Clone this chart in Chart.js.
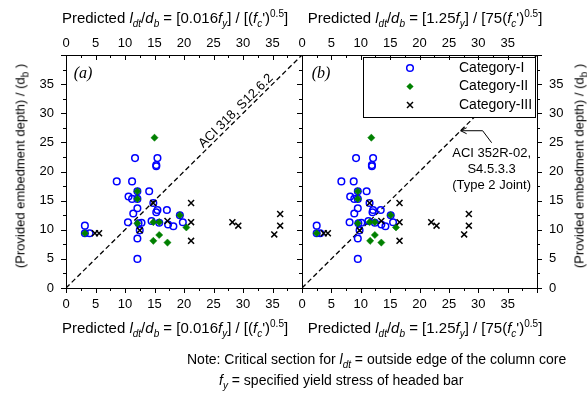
<!DOCTYPE html>
<html>
<head>
<meta charset="utf-8">
<script src="https://cdn.jsdelivr.net/npm/chart.js@4.4.1/dist/chart.umd.min.js"></script>
<style>
  body { margin: 0; background: #fff; }
  #wrap { position: relative; width: 587px; height: 393px; font-family: "Liberation Sans", Arial, sans-serif; font-size: 14px; color: #000; }
  canvas { position: absolute; left: 0; top: 0; }
  .lbl { position: absolute; white-space: nowrap; line-height: 1; }
  .cx { transform: translate(-50%, -50%); }
  .rot { transform: translate(-50%, -50%) rotate(-90deg); font-size: 13px; }
  .ttl { font-size: 15px; }
  sub, sup { font-size: 10px; line-height: 0; }
  .tag { font-family: "Liberation Serif", serif; font-style: italic; font-size: 16px; }
</style>
</head>
<body>
<div id="wrap">
  <canvas id="chartA" width="587" height="393"></canvas>
  <canvas id="chartB" width="587" height="393"></canvas>

  <div class="lbl cx ttl" style="left:175px;top:17px">Predicted <i>l</i><sub><i>dt</i></sub>/<i>d</i><sub><i>b</i></sub> = [0.016<i>f</i><sub><i>y</i></sub>] / [(<i>f</i><sub><i>c</i></sub>')<sup>0.5</sup>]</div>
  <div class="lbl cx ttl" style="left:425px;top:17px">Predicted <i>l</i><sub><i>dt</i></sub>/<i>d</i><sub><i>b</i></sub> = [1.25<i>f</i><sub><i>y</i></sub>] / [75(<i>f</i><sub><i>c</i></sub>')<sup>0.5</sup>]</div>
  <div class="lbl cx ttl" style="left:175px;top:327px">Predicted <i>l</i><sub><i>dt</i></sub>/<i>d</i><sub><i>b</i></sub> = [0.016<i>f</i><sub><i>y</i></sub>] / [(<i>f</i><sub><i>c</i></sub>')<sup>0.5</sup>]</div>
  <div class="lbl cx ttl" style="left:425px;top:327px">Predicted <i>l</i><sub><i>dt</i></sub>/<i>d</i><sub><i>b</i></sub> = [1.25<i>f</i><sub><i>y</i></sub>] / [75(<i>f</i><sub><i>c</i></sub>')<sup>0.5</sup>]</div>

  <div class="lbl rot" style="left:20px;top:166px">(Provided embedment depth) / (d<sub>b</sub> )</div>
  <div class="lbl rot" style="left:579px;top:166px">(Provided embedment depth) / (d<sub>b</sub> )</div>

  <div class="lbl" style="left:187px;top:352px">Note: Critical section for <i>l</i><sub><i>dt</i></sub> = outside edge of the column core</div>
  <div class="lbl" style="left:219px;top:373px"><i>f</i><sub><i>y</i></sub> = specified yield stress of headed bar</div>

  <div class="lbl cx tag" style="left:83px;top:73px">(a)</div>
  <div class="lbl cx tag" style="left:321px;top:73px">(b)</div>
</div>

<script>
// axis ticks (both panels use 0-40 with labels up to 35)
const tickValues = [0, 5, 10, 15, 20, 25, 30, 35];
const tickLabels = ['0', '5', '10', '15', '20', '25', '30', '35'];

// Category-I : provided depth (y), predicted ACI 318 (a) and ACI 352R (b)
const catI_y  = [10.7, 9.4, 9.4, 18.3, 22.3, 18.3, 22.3, 21.1, 20.9, 15.7, 15.3, 16.6, 15.3, 16.6, 13.7, 12.8, 13.4, 13.0, 13.4, 14.6, 11.3, 11.1, 11.2, 9.9, 8.5, 5.0, 11.5, 11.2, 10.9, 10.6, 12.5, 11.3];
const catI_a  = [3.2, 3.2, 4.0, 8.6, 11.7, 11.2, 15.5, 15.3, 15.3, 10.6, 11.2, 12.1, 12.1, 14.1, 12.1, 11.4, 15.5, 15.3, 17.1, 14.8, 10.5, 12.3, 12.8, 12.5, 12.1, 12.1, 14.5, 15.8, 17.3, 18.2, 19.3, 19.8];
const catI_b  = [2.5, 2.5, 3.1, 6.7, 9.2, 8.8, 12.1, 11.9, 11.9, 8.2, 8.9, 9.5, 9.5, 11.0, 9.5, 8.9, 12.1, 12.0, 13.4, 11.5, 8.1, 9.6, 10.1, 9.8, 9.5, 9.5, 11.3, 12.4, 13.5, 14.2, 15.1, 15.5];

// Category-II
const catII_y = [25.8, 16.6, 15.3, 9.4, 11.1, 11.3, 11.3, 12.5, 10.4, 9.1, 8.1, 7.8];
const catII_a = [15.0, 12.1, 12.1, 3.2, 12.1, 14.8, 15.8, 19.3, 20.4, 15.8, 14.8, 17.2];
const catII_b = [11.8, 9.5, 9.5, 2.5, 9.5, 11.5, 12.4, 15.1, 16.0, 12.4, 11.6, 13.5];

// Category-III
const catIII_y = [9.4, 9.4, 14.6, 11.5, 14.6, 11.3, 8.1, 11.3, 10.7, 9.2, 12.7, 10.7, 9.9];
const catIII_a = [4.9, 5.6, 14.8, 17.2, 21.2, 21.2, 21.2, 28.2, 29.2, 35.3, 36.3, 36.3, 12.5];
const catIII_b = [3.7, 4.4, 11.5, 13.5, 16.6, 16.6, 16.6, 22.0, 22.9, 27.6, 28.4, 28.4, 9.8];

// 1:1 line
const refX = [0, 40];
const refY = [0, 40];

const FONT = '"Liberation Sans", Arial, sans-serif';
const pts = (xs, ys) => xs.map((x, i) => ({ x: x, y: ys[i] }));

function makeDatasets(xI, xII, xIII) {
    return [
        { label: 'ref', data: pts(refX, refY), showLine: true, borderColor: '#000', borderWidth: 1.3,
          borderDash: [5, 3], pointRadius: 0, order: 3 },
        { label: 'Category-I', data: pts(xI, catI_y), pointStyle: 'circle', pointRadius: 3.3,
          borderColor: '#0000ff', backgroundColor: 'rgba(0,0,0,0)', pointBorderWidth: 1.5, order: 2 },
        { label: 'Category-II', data: pts(xII, catII_y), pointStyle: 'rectRot', pointRadius: 3.6,
          borderColor: '#008000', backgroundColor: '#008000', pointBorderWidth: 0.5, order: 1 },
        { label: 'Category-III', data: pts(xIII, catIII_y), pointStyle: 'crossRot', pointRadius: 4.2,
          borderColor: '#000', backgroundColor: '#000', pointBorderWidth: 1.5, order: 0 }
    ];
}

function axis(pos, size, pad) {
    return {
        type: 'linear', position: pos, min: 0, max: 40,
        grid: { display: false, drawTicks: false, tickLength: 0 }, border: { display: false },
        afterBuildTicks: s => { s.ticks = tickValues.map(v => ({ value: v })); },
        afterFit: s => { if (s.isHorizontal()) s.height = size; else s.width = size; },
        ticks: { font: { family: FONT, size: 13 }, color: '#000', padding: pad, maxRotation: 0, autoSkip: false,
                 callback: (v, i) => tickLabels[i] }
    };
}

function line(ctx, x1, y1, x2, y2) {
    ctx.beginPath(); ctx.moveTo(x1, y1); ctx.lineTo(x2, y2); ctx.stroke();
}

// frame, major/minor tick marks, annotations and legend
const decor = {
    id: 'decor',
    afterDatasetsDraw(chart, args, opts) {
        const ctx = chart.ctx, a = chart.chartArea;
        const xs = chart.scales.x, ys = chart.scales.y;
        ctx.save();
        ctx.fillStyle = '#000'; ctx.strokeStyle = '#000'; ctx.lineWidth = 1;
        ctx.font = '13px ' + FONT;

        if (opts.panel === 'a') {
            const ang = Math.atan2(ys.getPixelForValue(40) - ys.getPixelForValue(0), xs.getPixelForValue(40) - xs.getPixelForValue(0));
            ctx.save();
            ctx.translate(xs.getPixelForValue(29.6), ys.getPixelForValue(29.6));
            ctx.rotate(ang);
            ctx.textAlign = 'center'; ctx.textBaseline = 'alphabetic';
            ctx.fillText('ACI 318, S12.6.2', 0, -3);
            ctx.restore();
        } else {
            const tx = xs.getPixelForValue(27), ty = ys.getPixelForValue(27);
            ctx.beginPath();
            ctx.moveTo(tx, ty); ctx.lineTo(tx + 22, ty); ctx.lineTo(tx + 31, ty + 12);
            ctx.moveTo(tx + 6, ty - 3); ctx.lineTo(tx, ty); ctx.lineTo(tx + 6, ty + 3);
            ctx.stroke();
            ctx.textAlign = 'center';
            ctx.fillText('ACI 352R-02,', tx + 31, ty + 26);
            ctx.fillText('S4.5.3.3', tx + 31, ty + 42);
            ctx.fillText('(Type 2 Joint)', tx + 31, ty + 58);

            // legend
            const l = a.left + 61, t = a.top + 2, r = a.right - 1, b = a.top + 63;
            ctx.fillStyle = '#fff';
            ctx.fillRect(l, t, r - l, b - t);
            ctx.strokeRect(l + 0.5, t + 0.5, r - l - 1, b - t - 1);
            const mx = l + 47, lx = l + 96;
            const rows = [t + 11, t + 29.5, t + 48];
            chart.data.datasets.slice(1).forEach((ds, i) => {
                const y = rows[i];
                ctx.strokeStyle = ds.borderColor; ctx.fillStyle = ds.backgroundColor; ctx.lineWidth = 1.5;
                if (ds.pointStyle === 'circle') {
                    ctx.beginPath(); ctx.arc(mx, y, 3.3, 0, Math.PI * 2); ctx.stroke();
                } else if (ds.pointStyle === 'rectRot') {
                    ctx.beginPath(); ctx.moveTo(mx, y - 3.6); ctx.lineTo(mx + 3.6, y); ctx.lineTo(mx, y + 3.6); ctx.lineTo(mx - 3.6, y); ctx.closePath(); ctx.fill();
                } else {
                    line(ctx, mx - 3, y - 3, mx + 3, y + 3); line(ctx, mx - 3, y + 3, mx + 3, y - 3);
                }
                ctx.fillStyle = '#000'; ctx.textAlign = 'left'; ctx.textBaseline = 'middle';
                ctx.font = '14px ' + FONT;
                ctx.fillText(ds.label, lx, y);
            });
        }
        ctx.restore();
    },
    afterDraw(chart, args, opts) {
        const ctx = chart.ctx, a = chart.chartArea;
        const xs = chart.scales.x, ys = chart.scales.y;
        ctx.save();
        ctx.strokeStyle = '#000'; ctx.lineWidth = 1;
        ctx.strokeRect(Math.round(a.left) + 0.5, Math.round(a.top) + 0.5, Math.round(a.right - a.left), Math.round(a.bottom - a.top));
        for (let v = 0; v <= 40; v += 2.5) {
            const len = v % 5 === 0 ? 5 : 3;
            const px = Math.round(xs.getPixelForValue(v)) + 0.5;
            const py = Math.round(ys.getPixelForValue(v)) + 0.5;
            line(ctx, px, a.bottom, px, a.bottom + len);
            line(ctx, px, a.top, px, a.top + len);
            line(ctx, a.left - len, py, a.left, py);
            if (opts.panel === 'b') line(ctx, a.right, py, a.right + len, py);
        }
        ctx.restore();
    }
};

function makeChart(id, panel, xI, xII, xIII) {
    const right = panel === 'b';
    return new Chart(document.getElementById(id).getContext('2d'), {
        type: 'scatter',
        data: { datasets: makeDatasets(xI, xII, xIII) },
        options: {
            responsive: false, animation: false,
            layout: { padding: right ? { left: 302, right: 0, top: 0, bottom: 0 } : { left: 0, right: 285, top: 0, bottom: 0 } },
            plugins: { legend: { display: false }, tooltip: { enabled: false }, decor: { panel: panel } },
            scales: {
                x: axis('bottom', 105, 9),
                x2: axis('top', 55, 4),
                y: axis(right ? 'right' : 'left', right ? 50 : 66, 12)
            }
        },
        plugins: [decor]
    });
}

makeChart('chartA', 'a', catI_a, catII_a, catIII_a);
makeChart('chartB', 'b', catI_b, catII_b, catIII_b);
</script>
</body>
</html>
